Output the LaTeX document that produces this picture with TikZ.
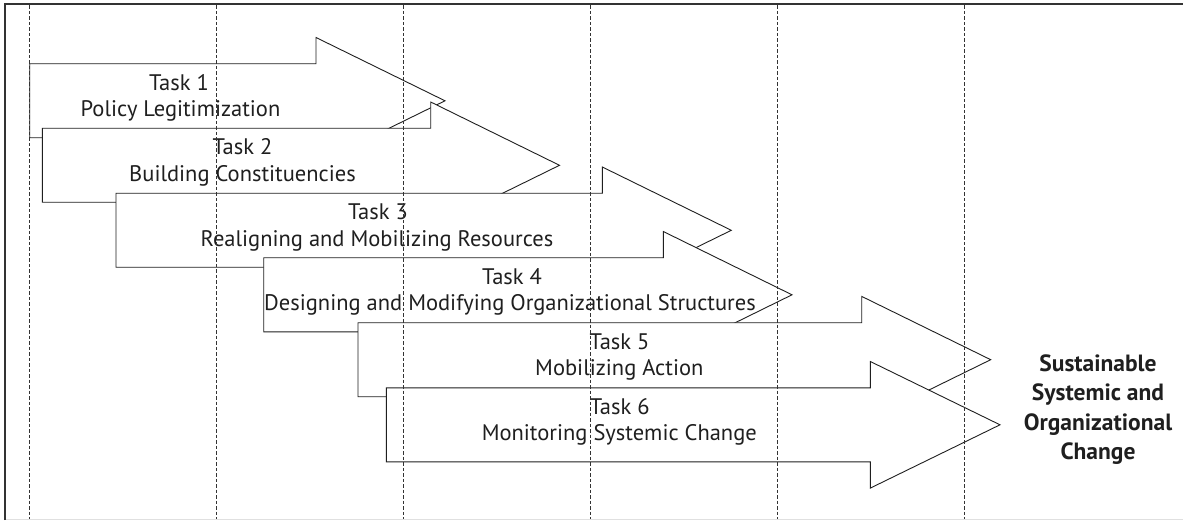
\documentclass[tikz,border=0pt]{standalone}
\usepackage{fontspec}
\setmainfont{PT Sans}
\newcommand\taskarrow[4]{% left, centre y, head base, tip
  \draw[taskshape] (#1,#2-37) -- (#3,#2-37) -- (#3,#2-63.3) -- (#4,#2)
    -- (#3,#2+63.3) -- (#3,#2+37) -- (#1,#2+37) -- cycle;}
\begin{document}
\begin{tikzpicture}[x=1pt,y=-1pt,
  taskshape/.style={draw=black!88, fill=white, line width=0.9pt, line join=miter},
  guide/.style={draw=black!80, line width=0.6pt, dash pattern=on 3.5pt off 2pt},
  tasktext/.style={anchor=base, inner sep=0pt, font=\fontsize{22.5}{26}\selectfont, text=black!88},
  goaltext/.style={anchor=base, inner sep=0pt, font=\fontsize{23.5}{26}\selectfont\bfseries, text=black!88}]
\useasboundingbox (0,0) rectangle (1183,521);

% task 1
\taskarrow{29.7}{100.8}{316}{445}
\node[tasktext] (t1a) at (179,90.4) {Task 1};
\node[tasktext] (t1b) at (180.5,116.9) {Policy Legitimization};
% task 2
\taskarrow{42.3}{165.3}{430.7}{559.5}
\node[tasktext] (t2a) at (242.5,154.8) {Task 2};
\node[tasktext] (t2b) at (242.5,181.4) {Building Constituencies};
% task 3
\taskarrow{116}{230.3}{602.3}{731.3}
\node[tasktext] (t3a) at (378,219.8) {Task 3};
\node[tasktext] (t3b) at (377,246.4) {Realigning and Mobilizing Resources};
% task 4
\taskarrow{263.7}{294.8}{663.3}{792}
\node[tasktext] (t4a) at (512,284.2) {Task 4};
\node[tasktext] (t4b) at (510,310.8) {Designing and Modifying Organizational Structures};
% task 5
\taskarrow{358}{359.7}{861.7}{990.7}
\node[tasktext] (t5a) at (619.5,349.1) {Task 5};
\node[tasktext] (t5b) at (619.3,375.7) {Mobilizing Action};
% task 6
\taskarrow{386.3}{424.8}{870.3}{1000}
\node[tasktext] (t6a) at (619.7,414.2) {Task 6};
\node[tasktext] (t6b) at (619.3,440.8) {Monitoring Systemic Change};

% goal
\node[goaltext] (g1) at (1098,371) {Sustainable};
\node[goaltext] (g2) at (1098,400.5) {Systemic and};
\node[goaltext] (g3) at (1098,430) {Organizational};
\node[goaltext] (g4) at (1098,459.3) {Change};

% guides
\foreach \gx in {29.7,216.7,403.3,590.3,777.3,964}
  \draw[guide] (\gx,5.5) -- (\gx,518.5);

% frame
\draw[black!12, line width=1.5pt] (5,519.6) -- (1183,519.6);
\draw[black!80, line width=2pt] (4.8,520) -- (4.8,4.3) -- (1183,4.3);
\end{tikzpicture}
\end{document}
